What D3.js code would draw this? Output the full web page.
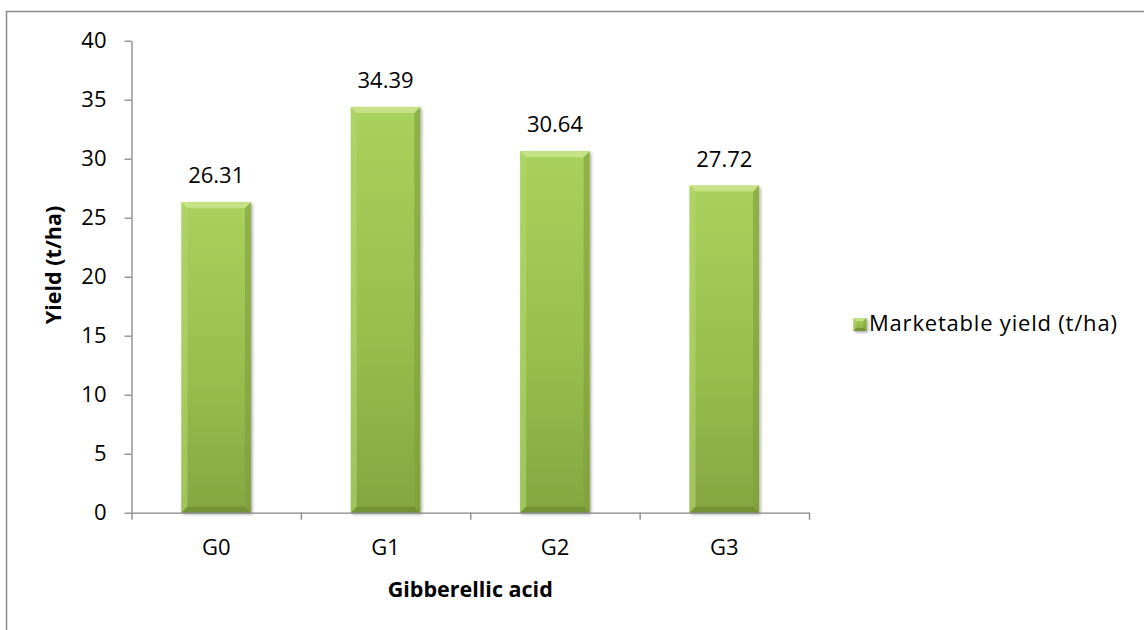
<!DOCTYPE html>
<html>
<head>
<meta charset="utf-8">
<script src="https://cdn.jsdelivr.net/npm/d3@7"></script>
<style>
  html, body { margin: 0; padding: 0; background: #fff; }
  svg { display: block; }
  text { font-family: "Open Sans", "Noto Sans", sans-serif; fill: #000; }
</style>
</head>
<body>
<svg id="chart" width="1144" height="630"></svg>
<script>
// Marketable yield by gibberellic acid treatment
const categories = ["G0", "G1", "G2", "G3"];
const yieldValues = [26.31, 34.39, 30.64, 27.72];
const yTicks = [0, 5, 10, 15, 20, 25, 30, 35, 40];
const seriesName = "Marketable yield (t/ha)";
const xTitle = "Gibberellic acid";
const yTitle = "Yield (t/ha)";

const W = 1144, H = 630;
const margin = { left: 131.5, top: 40.7, right: 335, bottom: 117.3 };
const x0 = margin.left, x1 = W - margin.right;
const yTop = margin.top, yBase = H - margin.bottom;
const FS = 22;

const svg = d3.select("#chart");

// gradients and shadow
const defs = svg.append("defs");
const g1 = defs.append("linearGradient").attr("id", "barGrad")
  .attr("x1", 0).attr("y1", 0).attr("x2", 0).attr("y2", 1);
g1.append("stop").attr("offset", "0%").attr("stop-color", "#a9d15c");
g1.append("stop").attr("offset", "55%").attr("stop-color", "#98bf4e");
g1.append("stop").attr("offset", "100%").attr("stop-color", "#84a641");

const f = defs.append("filter").attr("id", "shadow")
  .attr("x", "-10%").attr("y", "-10%").attr("width", "130%").attr("height", "130%");
f.append("feDropShadow").attr("dx", 1.5).attr("dy", 1.5).attr("stdDeviation", 1.5)
  .attr("flood-color", "#000").attr("flood-opacity", 0.35);

// outer frame
svg.append("rect")
  .attr("x", 6.5).attr("y", 11.5)
  .attr("width", W + 40).attr("height", H + 40)
  .attr("fill", "none").attr("stroke", "#898989").attr("stroke-width", 1.5);

const x = d3.scaleBand().domain(categories).range([x0, x1])
  .paddingInner(0.59).paddingOuter(0.295);
const xEdges = d3.scaleLinear().domain([0, categories.length]).range([x0, x1]);
const y = d3.scaleLinear().domain([0, 40]).range([yBase, yTop]);

// bevelled bar
function drawBevelBar(g, bx, by, bw, bh, bev) {
  g.append("rect").attr("x", bx).attr("y", by).attr("width", bw).attr("height", bh)
    .attr("fill", "url(#barGrad)").attr("filter", "url(#shadow)");
  const xl = bx, xr = bx + bw, yt = by, yb = by + bh;
  const faces = [
    { pts: [[xl, yt], [xr, yt], [xr - bev, yt + bev], [xl + bev, yt + bev]], fill: "#c6e487", op: 0.95 },
    { pts: [[xl, yt], [xl + bev, yt + bev], [xl + bev, yb - bev], [xl, yb]], fill: "#b2d56c", op: 0.6 },
    { pts: [[xr, yt], [xr, yb], [xr - bev, yb - bev], [xr - bev, yt + bev]], fill: "#7f9f3b", op: 0.6 },
    { pts: [[xl, yb], [xl + bev, yb - bev], [xr - bev, yb - bev], [xr, yb]], fill: "#6e8d30", op: 0.8 }
  ];
  faces.forEach(fc => {
    g.append("polygon").attr("points", fc.pts.map(p => p.join(",")).join(" "))
      .attr("fill", fc.fill).attr("fill-opacity", fc.op);
  });
}

const bars = svg.append("g");
categories.forEach((c, i) => {
  const v = yieldValues[i];
  drawBevelBar(bars, x(c), y(v), x.bandwidth(), y(0) - y(v), 6);
});

// value labels
svg.append("g").selectAll("text").data(categories).join("text")
  .attr("x", d => x(d) + x.bandwidth() / 2)
  .attr("y", (d, i) => y(yieldValues[i]) - 19)
  .attr("text-anchor", "middle")
  .attr("font-size", FS)
  .text((d, i) => yieldValues[i].toFixed(2));

// y axis
const yAxis = svg.append("g").attr("transform", `translate(${x0},0)`)
  .call(d3.axisLeft(y).tickValues(yTicks).tickSize(7).tickPadding(18).tickSizeOuter(0));
yAxis.selectAll("path, line").attr("stroke", "#868686").attr("stroke-width", 1.3);
yAxis.selectAll("text").attr("font-size", FS).attr("font-family", "'Open Sans', sans-serif").attr("fill", "#000");

// x axis: boundary ticks
const xAxis = svg.append("g").attr("transform", `translate(0,${yBase})`)
  .call(d3.axisBottom(xEdges).tickValues(d3.range(categories.length + 1)).tickSize(7)
    .tickSizeOuter(0).tickFormat(""));
xAxis.selectAll("path, line").attr("stroke", "#868686").attr("stroke-width", 1.3);

// category labels
const xLab = svg.append("g").attr("transform", `translate(0,${yBase})`)
  .call(d3.axisBottom(x).tickSize(0).tickPadding(27));
xLab.select("path").remove();
xLab.selectAll("text").attr("font-size", FS).attr("font-family", "'Open Sans', sans-serif").attr("fill", "#000");

// axis titles
svg.append("text")
  .attr("x", (x0 + x1) / 2).attr("y", 597)
  .attr("text-anchor", "middle").attr("font-size", 21.5).attr("font-weight", "bold")
  .text(xTitle);
svg.append("text")
  .attr("transform", `translate(61,265) rotate(-90)`)
  .attr("text-anchor", "middle").attr("font-size", 21.5).attr("font-weight", "bold")
  .text(yTitle);

// legend
const leg = svg.append("g");
drawBevelBar(leg, 853.5, 318, 13, 13, 3);
leg.append("text").attr("x", 869).attr("y", 331)
  .attr("font-size", FS).attr("letter-spacing", 0.8).text(seriesName);
</script>
</body>
</html>
